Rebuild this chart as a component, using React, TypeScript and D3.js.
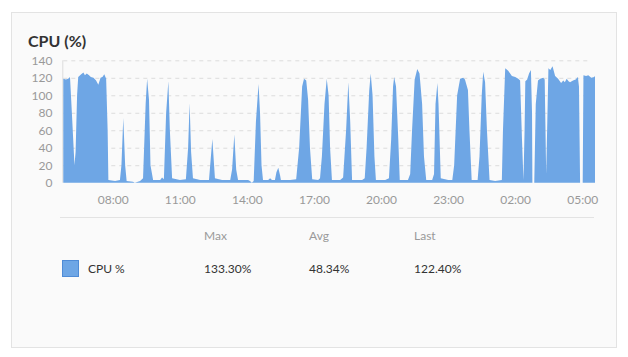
import React from "react";
import * as d3 from "d3";

const times: string[] = [
  "05:46","05:53","05:59","06:04","06:09","06:16","06:19","06:23","06:26","06:34",
  "06:40","06:44","06:49","06:55","07:00","07:07","07:14","07:20","07:26","07:31",
  "07:36","07:41","07:45","07:47","08:05","08:18","08:22","08:27","08:32","08:36",
  "08:53","08:58","09:12","09:20","09:27","09:31","09:36","09:40","09:47","10:06",
  "10:11","10:16","10:22","10:28","10:32","10:38","10:59","11:15","11:21","11:25",
  "11:29","11:34","11:53","12:17","12:26","12:33","12:52","13:14","13:19","13:25",
  "13:30","13:35","14:02","14:07","14:12","14:17","14:23","14:30","14:34","14:38",
  "14:42","14:56","15:01","15:06","15:14","15:18","15:23","15:28","15:30","15:55",
  "16:11","16:19","16:27","16:32","16:38","16:43","16:48","16:54","17:10","17:15",
  "17:20","17:27","17:33","17:38","17:42","17:47","18:09","18:17","18:25","18:31",
  "18:36","18:41","18:57","19:08","19:15","19:20","19:27","19:31","19:36","19:41",
  "19:45","20:10","20:20","20:26","20:31","20:34","20:39","20:45","20:49","21:11",
  "21:17","21:22","21:29","21:36","21:42","21:49","21:54","22:00","22:16","22:21",
  "22:25","22:30","22:33","22:39","22:59","23:10","23:15","23:23","23:31","23:39",
  "23:44","23:52","23:56","00:02","00:18","00:23","00:29","00:33","00:38","00:43",
  "00:50","01:05","01:23","01:26","01:32","01:40","01:50","01:59","02:07","02:12",
  "02:17","02:21","02:24","02:26","02:31","02:36","02:41","02:44","02:45","02:50",
  "02:54","03:00","03:06","03:14","03:18","03:22","03:25","03:28","03:33","03:39",
  "03:46","03:54","04:02","04:08","04:12","04:17","04:22","04:26","04:34","04:41",
  "04:47","04:50","04:53","05:00","05:02","05:09","05:15","05:23","05:31","05:33"
];

const cpuValues: number[] = [
  119,118,119,121,80,20,35,100,121,124,
  126,123,125,123,121,120,117,112,120,121,
  124,119,60,3,2,3,20,74,20,2,
  1,0,2,5,90,119,95,20,3,3,
  6,4,80,116,60,5,3,4,40,91,
  35,5,3,3,50,5,3,3,15,55,
  15,3,3,2,0,2,70,113,80,20,
  3,3,5,3,3,12,17,8,3,3,
  4,40,110,119,117,95,40,4,3,5,
  30,90,119,100,40,3,3,6,60,115,
  70,3,3,3,5,40,105,125,100,30,
  3,3,5,50,110,121,110,50,3,3,
  10,60,118,130,125,90,30,3,3,10,
  90,114,90,5,3,3,20,100,119,120,
  118,106,60,3,3,30,100,127,115,60,
  3,2,3,60,131,128,122,121,119,117,
  50,3,60,116,118,125,129,80,0,0,
  90,117,119,120,118,10,70,131,129,133.3,
  122,119,114,117,115,119,116,115,117,118,
  121,110,0,0,123,122,123,120,121,122.4
];

const yTicks: number[] = [0, 20, 40, 60, 80, 100, 120, 140];
const xTickLabels: string[] = ["08:00", "11:00", "14:00", "17:00", "20:00", "23:00", "02:00", "05:00"];

const seriesName = "CPU %";
const legendHeaders: string[] = ["Max", "Avg", "Last"];
const legendValues: string[] = ["133.30%", "48.34%", "122.40%"];

const W = 628;
const H = 357;
const FONT = "Lato, 'Open Sans', sans-serif";
const AREA_COLOR = "#6ea6e5";

function buildDates(list: string[]): Date[] {
  const out: Date[] = [];
  let dayOffset = 0;
  let prev = -1;
  for (const t of list) {
    const [h, m] = t.split(":").map(Number);
    const mins = h * 60 + m;
    if (prev >= 0 && mins < prev) dayOffset += 1;
    prev = mins;
    out.push(new Date(2024, 0, 1 + dayOffset, h, m));
  }
  return out;
}

export default function App() {
  const dates = buildDates(times);
  const data = dates.map((d, i) => ({ t: d, v: cpuValues[i] }));

  const left = 63.3;
  const right = 595;
  const top = 60.3;
  const bottom = 182.7;

  const x = d3.scaleTime().domain([dates[0], dates[dates.length - 1]]).range([left, right]);
  const y = d3.scaleLinear().domain([0, 140]).range([bottom, top]);

  const area = d3
    .area<{ t: Date; v: number }>()
    .x((d) => x(d.t))
    .y0(y(0))
    .y1((d) => y(d.v))
    .curve(d3.curveLinear);

  const xTickDates = buildDates(["05:46", ...xTickLabels]).slice(1);

  return (
    <svg
      width={W}
      height={H}
      style={{ position: "absolute", left: 0, top: 0, display: "block" }}
      fontFamily={FONT}
    >
      <rect x={0} y={0} width={W} height={H} fill="#ffffff" />
      <rect x={11.5} y={12.5} width={605} height={335} fill="#fafafa" stroke="#e3e3e3" />
      <text x={28} y={46.5} fontSize={16} fontWeight={700} fill="#333">
        CPU (%)
      </text>

      {yTicks.map((t) => (
        <g key={t}>
          {t > 0 && (
            <line
              x1={left}
              x2={590}
              y1={y(t) + 0.5}
              y2={y(t) + 0.5}
              stroke="#dcdcdc"
              strokeDasharray="4 4"
            />
          )}
          <text x={52.5} y={y(t) + 4.5} fontSize={12} fill="#999" textAnchor="end">
            {t}
          </text>
        </g>
      ))}
      <line x1={left - 0.5} x2={left - 0.5} y1={top} y2={bottom} stroke="#dcdcdc" />

      <path d={area(data) || ""} fill={AREA_COLOR} />

      {xTickDates.map((d, i) => (
        <text key={i} x={x(d)} y={204} fontSize={12} fill="#999" textAnchor="middle">
          {xTickLabels[i]}
        </text>
      ))}

      <line x1={60} x2={594} y1={217.5} y2={217.5} stroke="#e3e3e3" />

      {legendHeaders.map((h, i) => (
        <text key={h} x={204 + i * 105} y={240} fontSize={12} fill="#999">
          {h}
        </text>
      ))}

      <rect x={62.5} y={260.5} width={16} height={16} fill={AREA_COLOR} stroke="#4f8bd6" />
      <text x={88} y={273} fontSize={12} fill="#333">
        {seriesName}
      </text>
      {legendValues.map((v, i) => (
        <text key={i} x={204 + i * 105} y={273} fontSize={12} fill="#333">
          {v}
        </text>
      ))}
    </svg>
  );
}
